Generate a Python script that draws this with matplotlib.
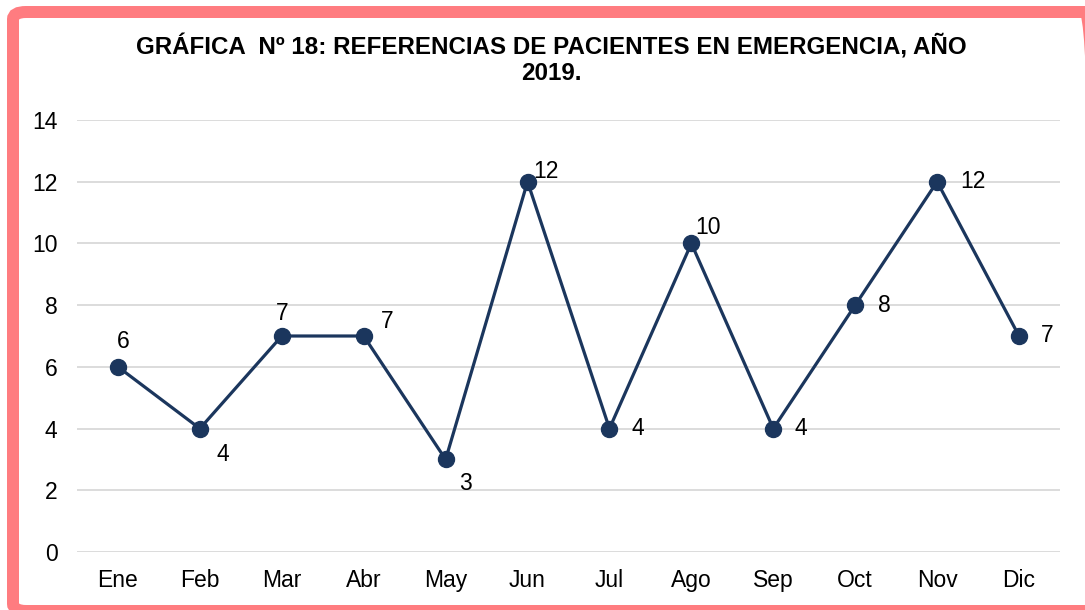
import matplotlib
matplotlib.use("Agg")
import matplotlib.pyplot as plt
from matplotlib.patches import FancyBboxPatch

months = ["Ene", "Feb", "Mar", "Abr", "May", "Jun", "Jul", "Ago", "Sep", "Oct", "Nov", "Dic"]
values = [6, 4, 7, 7, 3, 12, 4, 10, 4, 8, 12, 7]
label_offsets = [(5, 25), (23, -26), (0, 23), (23, 15), (20, -24), (18, 10),
                 (28, 0), (17, 16), (28, 0), (29, 0), (36, 0), (28, 0)]

plt.rcParams['font.family'] = ['Liberation Sans', 'DejaVu Sans']

W, H = 1085, 610
fig = plt.figure(figsize=(W / 100, H / 100), dpi=100)
fig.patch.set_facecolor("white")

ax = fig.add_axes([77 / W, (H - 552) / H, (1060 - 77) / W, (552 - 120) / H])
x = list(range(len(months)))
color = "#1b365d"
ax.plot(x, values, color=color, lw=2.3, marker="o", markersize=11.5, zorder=3)
for xi, v, off in zip(x, values, label_offsets):
    ax.annotate(str(v), (xi, v), xytext=off, textcoords="offset pixels",
                ha="center", va="center", fontsize=16.5, color="#000000")

ax.set_xlim(-0.5, len(months) - 0.5)
ax.set_ylim(0, 14)
ax.set_yticks(range(0, 15, 2))
ax.set_xticks(x)
ax.set_xticklabels(months)
ax.tick_params(axis="both", length=0, labelsize=16.5, colors="#000000")
ax.tick_params(axis="x", pad=12.5)
ax.tick_params(axis="y", pad=14)
ax.grid(axis="y", color="#d9d9d9", lw=1.3)
ax.set_axisbelow(True)
for s in ax.spines.values():
    s.set_visible(False)

fig.text(551 / W, 1 - 47 / H, "GRÁFICA  Nº 18: REFERENCIAS DE PACIENTES EN EMERGENCIA, AÑO",
         ha="center", va="center", fontsize=17.4, fontweight="bold")
fig.text(551 / W, 1 - 74 / H, "2019.", ha="center", va="center", fontsize=17.4, fontweight="bold")

border = FancyBboxPatch((13 / W, (H - 611) / H), (1098 - 13) / W, (611 - 12) / H,
                        boxstyle="round,pad=0,rounding_size=0.012",
                        transform=fig.transFigure, fill=False,
                        edgecolor="#ff7c80", lw=12 * 0.72, zorder=10)
fig.patches.append(border)

fig.savefig("out.png", dpi=100, facecolor="white")
